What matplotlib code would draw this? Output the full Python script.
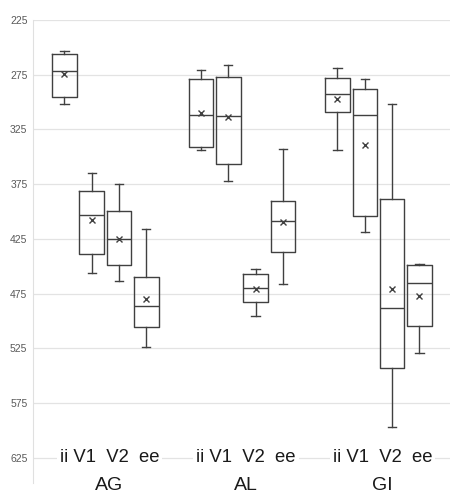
import matplotlib
matplotlib.use("Agg")
import matplotlib.pyplot as plt

# groups and sub-categories
groups = ["AG", "AL", "GI"]
subcats = ["ii", "V1", "V2", "ee"]

# box stats, order: AG ii..ee, AL ii..ee, GI ii..ee
lows   = [253, 365, 375, 416, 271, 266, 453, 343, 269, 279, 302, 448]
q1s    = [256, 381, 400, 460, 279, 277, 457, 390, 278, 288, 389, 449]
medians = [272, 403, 425, 486, 312, 313, 470, 409, 293, 312, 488, 465]
q3s    = [295, 439, 449, 506, 341, 357, 483, 437, 309, 404, 543, 505]
highs  = [302, 456, 464, 524, 344, 372, 496, 466, 344, 419, 597, 529]
means  = [274, 408, 425, 480, 310, 314, 471, 410, 297, 339, 471, 477]

yticks = [225, 275, 325, 375, 425, 475, 525, 575, 625]

plt.rcParams['font.family'] = ['Liberation Sans', 'DejaVu Sans']

fig = plt.figure(figsize=(4.5, 4.95), dpi=100)
W, H = 450, 495
top_px, bot_px = 20, 483
ax = fig.add_axes([33 / W, 1 - bot_px / H, 1 - 33 / W, (bot_px - top_px) / H])

positions = []
for g in range(len(groups)):
    for s in range(len(subcats)):
        positions.append(g * 5 + s)

stats = []
for i in range(len(positions)):
    stats.append(dict(whislo=lows[i], q1=q1s[i], med=medians[i], q3=q3s[i],
                      whishi=highs[i], mean=means[i], fliers=[]))

edge = "#404040"
ax.bxp(stats, positions=positions, widths=0.9, capwidths=0.3,
       showmeans=True, patch_artist=False,
       boxprops=dict(color=edge, lw=1.0),
       whiskerprops=dict(color=edge, lw=1.0),
       capprops=dict(color=edge, lw=1.0),
       medianprops=dict(color=edge, lw=1.0),
       meanprops=dict(marker="x", markeredgecolor=edge, markersize=4.5,
                      markeredgewidth=1.0))

# value axis: 1.094 px per unit, 225 at top
px_per_unit = 54.7 / 50
bottom_val = 225 + (bot_px - top_px) / px_per_unit
ax.set_ylim(bottom_val, 225)
ax.set_xlim(-1.15, 14.12)
ax.set_yticks(yticks)
ax.set_yticklabels([str(t) for t in yticks])
ax.tick_params(axis="y", length=0, pad=4, labelsize=7.5, labelcolor="#595959")
ax.set_xticks([])
ax.grid(axis="y", color="#e3e3e3", lw=0.9)
ax.set_axisbelow(True)
for side in ["top", "right", "bottom"]:
    ax.spines[side].set_visible(False)
ax.spines["left"].set_color("#e0e0e0")

# category labels sit on the 625 line, group names underneath
for g, name in enumerate(groups):
    cx = g * 5 + 1.5 + 0.15
    ax.text(cx, 625, "ii V1  V2  ee", ha="center", va="center", fontsize=13.3,
            color="#1a1a1a",
            bbox=dict(facecolor="white", edgecolor="none", pad=2))
    ax.text(cx, 225 + (494 - top_px) / px_per_unit, name, ha="center",
            va="bottom", fontsize=14, color="#1a1a1a", clip_on=False)

fig.savefig("out.png", dpi=100)
